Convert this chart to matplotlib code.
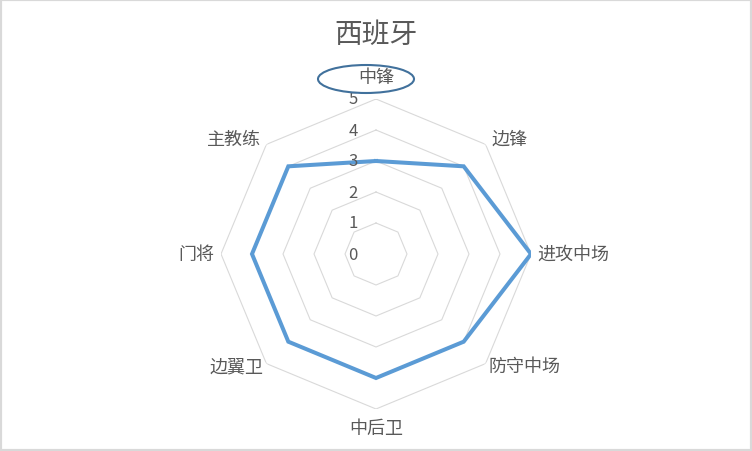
import numpy as np
import matplotlib
matplotlib.use("Agg")
import matplotlib.pyplot as plt
from matplotlib.patches import Ellipse, Rectangle
from matplotlib.transforms import offset_copy

plt.rcParams["font.family"] = ["Noto Sans CJK SC", "DejaVu Sans"]

title = "西班牙"
categories = ["中锋", "边锋", "进攻中场", "防守中场", "中后卫", "边翼卫", "门将", "主教练"]
values = [3, 4, 5, 4, 4, 4, 4, 4]
r_ticks = [0, 1, 2, 3, 4, 5]

text_color = "#595959"
grid_color = "#d9d9d9"
line_color = "#5b9bd5"

n = len(categories)
theta = np.arange(n) * 2 * np.pi / n
theta_closed = np.append(theta, theta[0])

fig = plt.figure(figsize=(7.52, 4.52), dpi=100)
ax = fig.add_axes([221 / 752, 42 / 452, 310 / 752, 310 / 452], projection="polar")
ax.set_theta_offset(np.pi / 2)
ax.set_theta_direction(-1)
ax.set_ylim(0, 5)
ax.grid(False)
ax.spines["polar"].set_visible(False)
ax.set_xticks([])
ax.set_yticks([])
ax.patch.set_alpha(0)

# polygon gridlines
for r in r_ticks[1:]:
    ax.plot(theta_closed, [r] * (n + 1), color=grid_color, lw=0.8, zorder=1)

# data line
vals_closed = values + values[:1]
ax.plot(theta_closed, vals_closed, color=line_color, lw=2.9, zorder=3,
        solid_joinstyle="miter")

# radial tick labels, left of the top axis
tick_tr = offset_copy(ax.transData, fig=fig, x=-23, y=0, units="dots")
for r in r_ticks:
    ax.text(0, r, str(r), transform=tick_tr, ha="center", va="center",
            fontsize=12, color=text_color, fontweight="light", zorder=4)

# category labels
label_r = [5.72, 5.25, 5.2, 5.12, 5.6, 5.12, 5.2, 5.25]
for t, lab, r in zip(theta, categories, label_r):
    deg = np.degrees(t) % 360
    if deg in (0, 180):
        ha = "center"
    elif deg < 180:
        ha = "left"
    else:
        ha = "right"
    ax.text(t, r, lab, ha=ha, va="center", fontsize=13, color=text_color,
            fontweight="light")

fig.text(376 / 752, 1 - 35 / 452, title, ha="center", va="center",
         fontsize=20, color=text_color, fontweight="light")

# callout ellipse around the top label
fig.patches.append(Ellipse((366 / 752, 1 - 80 / 452), 96 / 752, 28 / 452,
                           transform=fig.transFigure, fill=False,
                           edgecolor="#41719c", lw=1.5))
# chart border
fig.patches.append(Rectangle((0, 0), 1, 1, transform=fig.transFigure,
                             fill=False, edgecolor=grid_color, lw=3))

fig.savefig("out.png", dpi=100)
